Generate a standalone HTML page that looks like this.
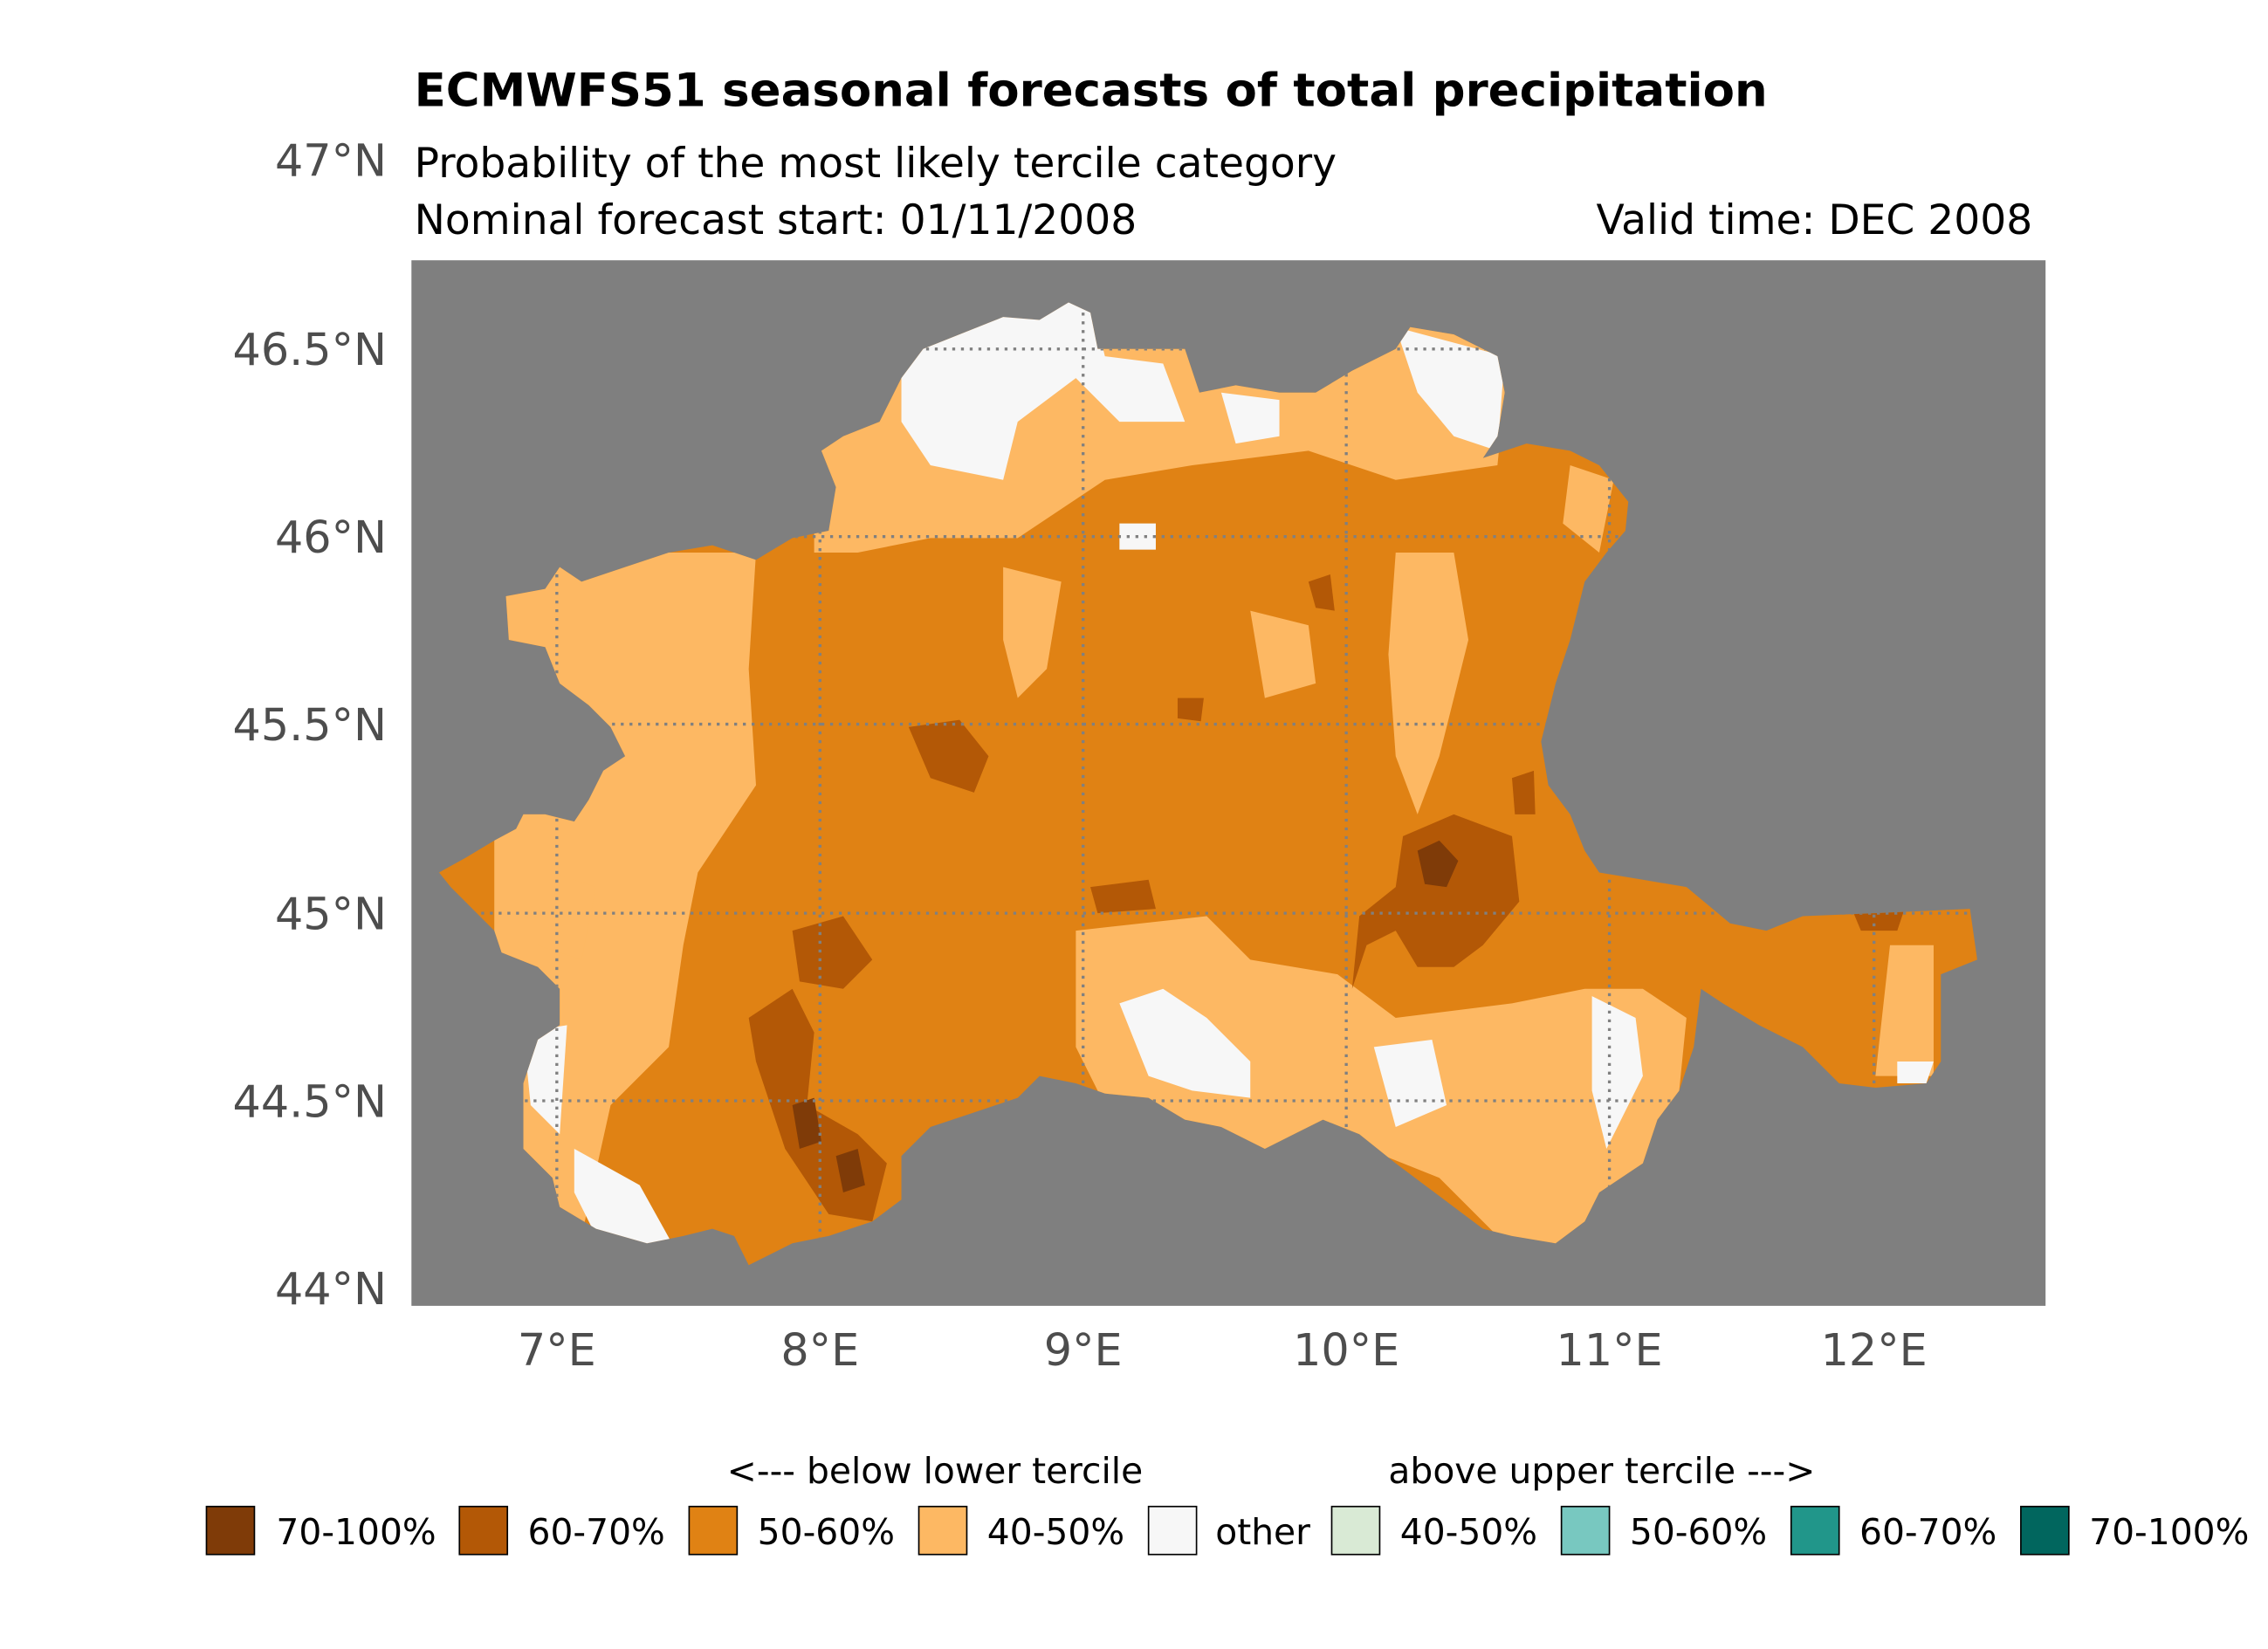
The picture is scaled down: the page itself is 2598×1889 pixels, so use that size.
<!DOCTYPE html>
<html><head><meta charset="utf-8"><style>
html,body{margin:0;padding:0;background:#fff;}
svg{display:block;}
text{font-family:"DejaVu Sans","Liberation Sans",sans-serif;}
</style></head><body>
<svg width="2598" height="1889" viewBox="0 0 1560 1134" preserveAspectRatio="none" xmlns="http://www.w3.org/2000/svg">
<defs>
<clipPath id="reg"><polygon points="302,600 320,590 340,578 355,570 360,560 375,560 395,565 405,550 415,530 430,520 420,500 405,485 385,470 375,445 350,440 348,410 375,405 385,390 400,400 430,390 460,380 490,375 520,385 545,370 570,365 575,335 565,310 580,300 605,290 620,260 635,240 660,230 690,218 715,220 735,208 750,215 755,240 790,240 815,240 825,270 850,265 880,270 905,270 930,255 960,240 970,225 1000,230 1030,245 1035,270 1030,300 1020,315 1050,305 1080,310 1100,320 1120,345 1118,365 1105,380 1090,400 1080,440 1070,470 1060,510 1065,540 1080,560 1090,585 1100,600 1130,605 1160,610 1190,635 1215,640 1240,630 1290,628 1355,625 1360,660 1335,670 1335,730 1325,745 1290,748 1265,745 1240,720 1210,705 1185,690 1170,680 1165,720 1155,750 1140,770 1130,800 1100,820 1090,840 1070,855 1040,850 1020,845 1000,830 980,815 960,800 935,780 910,770 890,780 870,790 840,775 815,770 790,755 760,752 740,745 715,740 700,755 670,765 640,775 620,795 620,825 600,840 570,850 545,855 515,870 505,850 490,845 470,850 445,855 410,845 385,830 380,810 360,790 360,745 370,715 385,705 385,680 370,665 345,655 340,640 325,625 310,610"/></clipPath>
</defs>
<text x="285" y="73" font-size="31.8" font-weight="bold">ECMWFS51 seasonal forecasts of total precipitation</text>
<text x="285" y="122" font-size="28.3">Probability of the most likely tercile category</text>
<text x="285" y="161" font-size="28.3">Nominal forecast start: 01/11/2008</text>
<text x="1398" y="161" font-size="28.3" text-anchor="end">Valid time: DEC 2008</text>
<rect x="283" y="179" width="1124" height="719" fill="#7f7f7f"/>
<g clip-path="url(#reg)">
<rect x="290" y="200" width="1080" height="680" fill="#e08214"/>
<g fill="#fdb863">
<path d="M340,380 L520,380 L515,460 L520,540 L480,600 L470,650 L460,720 L420,760 L400,850 L340,850 Z"/>
<path d="M560,220 L1040,220 L1030,320 L960,330 L900,310 L820,320 L760,330 L700,370 L640,370 L590,380 L560,380 Z"/>
<path d="M740,640 L830,630 L860,660 L920,670 L960,700 L1040,690 L1090,680 L1130,680 L1160,700 L1150,800 L1100,860 L1040,860 L990,810 L940,790 L860,790 L760,760 L740,720 Z"/>
<path d="M960,380 L1000,380 L1010,440 L990,520 L975,560 L960,520 L955,450 Z"/>
<path d="M690,390 L730,400 L720,460 L700,480 L690,440 Z"/>
<path d="M860,420 L900,430 L905,470 L870,480 Z"/>
<path d="M380,600 L410,610 L400,660 L370,650 Z"/>
<path d="M1080,320 L1110,330 L1100,380 L1075,360 Z"/>
<path d="M1300,650 L1330,650 L1330,740 L1290,740 Z"/>
</g>
<g fill="#f7f7f7">
<path d="M620,210 L750,205 L760,245 L800,250 L815,290 L770,290 L740,260 L700,290 L690,330 L640,320 L620,290 Z"/>
<path d="M840,270 L880,275 L880,300 L850,305 Z"/>
<path d="M960,225 L1035,245 L1030,310 L1000,300 L975,270 Z"/>
<path d="M395,790 L440,815 L465,860 L410,850 L395,820 Z"/>
<path d="M360,710 L390,705 L385,780 L365,760 Z"/>
<path d="M770,690 L800,680 L830,700 L860,730 L860,755 L820,750 L790,740 Z"/>
<path d="M945,720 L985,715 L995,760 L960,775 Z"/>
<path d="M1095,685 L1125,700 L1130,740 L1105,790 L1095,750 Z"/>
<path d="M1305,730 L1330,730 L1325,745 L1305,745 Z"/>
<path d="M770,360 L795,360 L795,378 L770,378 Z"/>
</g>
<g fill="#b35806">
<path d="M965,575 L1000,560 L1040,575 L1045,620 L1020,650 L1000,665 L975,665 L960,640 L940,650 L930,680 L935,630 L960,610 Z"/>
<path d="M515,700 L545,680 L560,710 L555,760 L590,780 L610,800 L600,840 L570,835 L540,790 L520,730 Z"/>
<path d="M625,500 L660,495 L680,520 L670,545 L640,535 Z"/>
<path d="M545,640 L580,630 L600,660 L580,680 L550,675 Z"/>
<path d="M900,400 L915,395 L918,420 L905,418 Z"/>
<path d="M810,480 L828,480 L826,496 L810,494 Z"/>
<path d="M750,610 L790,605 L795,625 L755,628 Z"/>
<path d="M1040,535 L1055,530 L1056,560 L1042,560 Z"/>
<path d="M1275,628 L1310,625 L1305,640 L1280,640 Z"/>
</g>
<g fill="#7f3b08">
<path d="M975,585 L990,578 L1003,592 L995,610 L980,608 Z"/>
<path d="M545,760 L560,755 L565,785 L550,790 Z"/>
<path d="M575,795 L590,790 L595,815 L580,820 Z"/>
</g>
<g stroke="#808080" stroke-width="2" stroke-dasharray="2,4" fill="none">
<line x1="283" y1="240" x2="1407" y2="240"/>
<line x1="283" y1="369" x2="1407" y2="369"/>
<line x1="283" y1="498" x2="1407" y2="498"/>
<line x1="283" y1="628" x2="1407" y2="628"/>
<line x1="283" y1="757" x2="1407" y2="757"/>
<line x1="383" y1="179" x2="383" y2="898"/>
<line x1="564" y1="179" x2="564" y2="898"/>
<line x1="745" y1="179" x2="745" y2="898"/>
<line x1="926" y1="179" x2="926" y2="898"/>
<line x1="1107" y1="179" x2="1107" y2="898"/>
<line x1="1289" y1="179" x2="1289" y2="898"/>
</g>
</g>
<g font-size="30.5" fill="#4d4d4d" text-anchor="end">
<text x="266" y="121">47°N</text>
<text x="266" y="251">46.5°N</text>
<text x="266" y="380">46°N</text>
<text x="266" y="509">45.5°N</text>
<text x="266" y="639">45°N</text>
<text x="266" y="768">44.5°N</text>
<text x="266" y="897">44°N</text>
</g>
<g font-size="30.5" fill="#4d4d4d" text-anchor="middle">
<text x="383" y="939">7°E</text>
<text x="564" y="939">8°E</text>
<text x="745" y="939">9°E</text>
<text x="926" y="939">10°E</text>
<text x="1107" y="939">11°E</text>
<text x="1289" y="939">12°E</text>
</g>
<g font-size="24.5">
<text x="500" y="1020">&lt;--- below lower tercile</text>
<text x="955" y="1020">above upper tercile ---&gt;</text>
</g>
<g stroke="#000" stroke-width="1">
<rect x="142" y="1036" width="33" height="33" fill="#7f3b08"/>
<rect x="316" y="1036" width="33" height="33" fill="#b35806"/>
<rect x="474" y="1036" width="33" height="33" fill="#e08214"/>
<rect x="632" y="1036" width="33" height="33" fill="#fdb863"/>
<rect x="790" y="1036" width="33" height="33" fill="#f7f7f7"/>
<rect x="916" y="1036" width="33" height="33" fill="#d9ead5"/>
<rect x="1074" y="1036" width="33" height="33" fill="#78c8c0"/>
<rect x="1232" y="1036" width="33" height="33" fill="#21968a"/>
<rect x="1390" y="1036" width="33" height="33" fill="#01665e"/>
</g>
<g font-size="24.5">
<text x="190" y="1062">70-100%</text>
<text x="363" y="1062">60-70%</text>
<text x="521" y="1062">50-60%</text>
<text x="679" y="1062">40-50%</text>
<text x="836" y="1062">other</text>
<text x="963" y="1062">40-50%</text>
<text x="1121" y="1062">50-60%</text>
<text x="1279" y="1062">60-70%</text>
<text x="1437" y="1062">70-100%</text>
</g>
</svg>
</body></html>
